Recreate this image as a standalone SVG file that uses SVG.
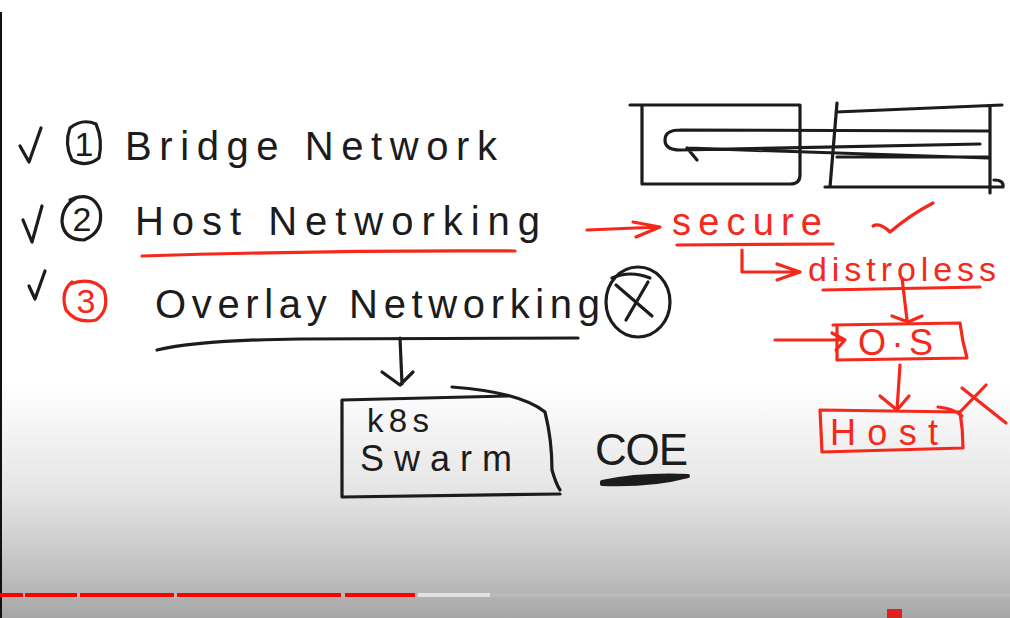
<svg xmlns="http://www.w3.org/2000/svg" width="1010" height="618" viewBox="0 0 1010 618">
<defs>
<linearGradient id="bg" x1="0" y1="0" x2="0" y2="618" gradientUnits="userSpaceOnUse">
<stop offset="0" stop-color="#ffffff"/>
<stop offset="0.62" stop-color="#ffffff"/>
<stop offset="0.8" stop-color="#e4e4e4"/>
<stop offset="0.92" stop-color="#c2c2c2"/>
<stop offset="1" stop-color="#a6a6a6"/>
</linearGradient>
<style>
.k{fill:none;stroke:#1c1c1c;stroke-width:3.2;stroke-linecap:round;stroke-linejoin:round}
.r{fill:none;stroke:#f5281c;stroke-width:3.2;stroke-linecap:round;stroke-linejoin:round}
.tk{fill:#1c1c1c;font-family:"Liberation Sans",Arial,sans-serif}
.tr{fill:#f5281c;font-family:"Liberation Sans",Arial,sans-serif}
</style>
</defs>
<rect width="1010" height="618" fill="url(#bg)"/>
<rect x="0" y="12" width="2" height="606" fill="#111"/>

<g id="item-bridge">
<path class="k" d="M20,146 L29,162 L41,128"/>
<path class="k" d="M70,128 Q82,118 96,124 Q103,140 99,158 Q86,168 72,160 Q64,144 70,128 Z"/>
<text class="tk" x="84" y="156" font-size="34" text-anchor="middle">1</text>
<text class="tk" x="125" y="160" font-size="40" textLength="372" lengthAdjust="spacing">Bridge Network</text>
</g>

<g id="item-host">
<path class="k" d="M23,220 L32,242 L42,206"/>
<path class="k" d="M70,200 Q92,190 100,210 Q104,232 84,240 Q64,240 62,222 Q62,206 76,198"/>
<text class="tk" x="82" y="231" font-size="34" text-anchor="middle">2</text>
<text class="tk" x="135" y="235" font-size="40" textLength="405" lengthAdjust="spacing">Host Networking</text>
<path class="r" d="M142,256 Q330,250 515,251"/>
</g>

<g id="item-overlay">
<path class="k" d="M29,286 L35,299 L45,271"/>
<path class="r" d="M70,284 Q92,276 104,290 Q110,310 96,320 Q76,324 66,310 Q60,292 72,282"/>
<text class="tr" x="86" y="313" font-size="34" text-anchor="middle">3</text>
<text class="tk" x="155" y="318" font-size="40" textLength="445" lengthAdjust="spacing">Overlay Networking</text>
<path class="k" d="M157,350 Q200,340 300,339 L578,338"/>
<ellipse class="k" cx="638" cy="302" rx="32" ry="35"/>
<path class="k" d="M616,285 L652,316 M648,282 L626,320 M612,278 Q630,270 650,278"/>
</g>

<g id="coe-box">
<path class="k" d="M342,400 L508,396 M452,387 Q520,392 545,412 Q552,440 552,470 Q556,484 560,490 M342,400 L342,497 L560,494"/>
<text class="tk" x="367" y="432" font-size="33" textLength="62" lengthAdjust="spacing">k8s</text>
<text class="tk" x="360" y="471" font-size="36" textLength="152" lengthAdjust="spacing">Swarm</text>
</g>

<g id="coe">
<text class="tk" x="595" y="465" font-size="44" textLength="93" lengthAdjust="spacing">COE</text>
<path d="M602,482 Q640,474 688,476 Q650,486 602,484 Z" fill="#1c1c1c" stroke="#1c1c1c" stroke-width="4" stroke-linejoin="round"/>
</g>

<g id="containers">
<path class="k" d="M630,105 L800,105 Q800,110 800,120 L800,175 Q800,184 790,184 L642,184 L642,105"/>
<path class="k" d="M837,103 L830,187 M836,112 L1002,105 M990,107 L990,193 M825,187 L1003,187 Q1004,180 994,180"/>
<path class="k" d="M680,130 L988,131 M680,130 Q665,130 665,140 Q665,150 680,150 L980,144 M687,148 L988,158 M687,148 L697,160 M837,157 L988,157"/>
</g>

<g id="secure">
<text class="tr" x="672" y="235" font-size="38" textLength="150" lengthAdjust="spacing">secure</text>
<path class="r" d="M677,245 L833,244"/>
<path class="r" d="M873,226 Q880,222 890,232 Q910,215 933,203"/>
</g>

<g id="distroless">
<text class="tr" x="808" y="281" font-size="34" textLength="188" lengthAdjust="spacing">distroless</text>
<path class="r" d="M823,290 L980,287"/>
</g>

<g id="os">
<path class="r" d="M833,325 L960,323 Q962,340 967,358 L837,360 L837,325"/>
<text class="tr" x="858" y="355" font-size="36" textLength="75" lengthAdjust="spacing">O·S</text>
</g>

<g id="host">
<path class="r" d="M820,410 L960,412 Q963,430 963,448 L822,452 Z M938,407 Q952,408 962,416"/>
<text class="tr" x="830" y="445" font-size="36" textLength="108" lengthAdjust="spacing">Host</text>
<path class="r" d="M960,412 L986,385 M962,388 L1006,423"/>
</g>

<g id="connectors">
<path class="k" d="M400,338 L402,384 M382,372 L400,385 L413,372"/>
<path class="r" d="M587,230 L660,227 M633,222 L660,227 L636,237"/>
<path class="r" d="M742,250 L742,272 L800,272 M777,264 L800,272 L777,280"/>
<path class="r" d="M902,278 L907,320 M892,316 L908,322 L922,316"/>
<path class="r" d="M775,340 L843,340 M832,333 L845,340 L836,350"/>
<path class="r" d="M900,365 L897,410 M880,396 L897,410 L909,396"/>
</g>

<g id="player-bar">
<rect x="0" y="593" width="1010" height="4" fill="#b9b9b9"/>
<rect x="418" y="593" width="72" height="4" fill="#e2e2e2"/>
<rect x="0" y="593" width="23" height="4" fill="#ff0000"/>
<rect x="25" y="593" width="52" height="4" fill="#ff0000"/>
<rect x="80" y="593" width="94" height="4" fill="#ff0000"/>
<rect x="177" y="593" width="164" height="4" fill="#ff0000"/>
<rect x="345" y="593" width="70" height="4" fill="#ff0000"/>
<rect x="887" y="609" width="15" height="9" fill="#e02020"/>
</g>
</svg>
